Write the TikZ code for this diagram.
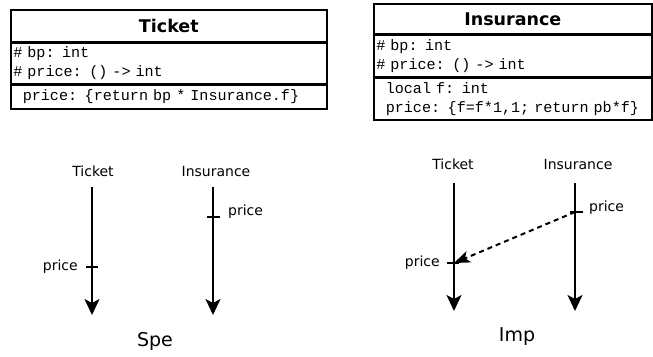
\documentclass[tikz,border=0pt]{standalone}
\usepackage{fontspec}
\setmainfont{DejaVu Sans}
\newfontfamily\codefont{Liberation Mono}
\usetikzlibrary{arrows.meta, positioning, calc}

\tikzset{
  classhead/.style={draw, line width=1.6pt, inner sep=0pt, align=center,
    font=\fontsize{17.5}{20}\selectfont\bfseries},
  attrbox/.style={draw, line width=1.6pt, inner xsep=2.5pt, inner ysep=0pt, align=left,
    font=\codefont\fontsize{15.1}{19}\selectfont},
  lifeline/.style={line width=2pt, -{Stealth[length=16pt, width=15pt, inset=4pt]}},
  message/.style={line width=2pt, dash pattern=on 5pt off 4pt, -{Stealth[length=16pt, width=12pt, inset=4pt]}},
  tick/.style={line width=2pt},
  objname/.style={inner sep=0pt, font=\fontsize{14}{16}\selectfont},
  callname/.style={inner sep=0pt, font=\fontsize{14}{16}\selectfont},
  caption/.style={inner sep=0pt, font=\fontsize{19}{22}\selectfont}
}
\newcommand{\opsindent}{\hspace*{9.5pt}}

\begin{document}
\begin{tikzpicture}[x=1pt, y=-1pt]
            \useasboundingbox (0,0) rectangle (653,356);

            % Ticket class
            \node[classhead, minimum width=316pt, minimum height=32pt, anchor=north west] (tHead) at (10,9) {Ticket};
            \node[attrbox, below=0pt of tHead, text width=311pt, minimum height=40pt] (tAttr) {\# bp: int\\\# price: () -> int};
            \node[attrbox, below=0pt of tAttr, text width=311pt, minimum height=24pt] (tOps) {\opsindent price: \{return bp * Insurance.f\}};

            % Insurance class
            \node[classhead, minimum width=278pt, minimum height=30pt, anchor=north west] (iHead) at (373,3) {Insurance};
            \node[attrbox, below=0pt of iHead, text width=273pt, minimum height=41pt] (iAttr) {\# bp: int\\\# price: () -> int};
            \node[attrbox, below=0pt of iAttr, text width=273pt, minimum height=42pt] (iOps) {\opsindent local f: int\\\opsindent price: \{f=f*1,1; return pb*f\}};

            % Spe: lifelines
            \coordinate (tsTop) at (92,187);
            \coordinate (tsEnd) at (92,315);
            \coordinate (tsCall) at (92,267);
            \coordinate (isTop) at (213,187);
            \coordinate (isEnd) at (213,315);
            \coordinate (isCall) at (213,217);
            \node[objname] (tsHead) at (93,171) {Ticket};
            \node[objname] (isHead) at (216,171) {Insurance};
            \draw[lifeline] (tsTop) -- (tsEnd);
            \draw[lifeline] (isTop) -- (isEnd);
            \draw[tick] ([xshift=-6pt]tsCall) -- ([xshift=6pt]tsCall);
            \draw[tick] ([xshift=-6pt]isCall) -- ([xshift=7pt]isCall);
            \node[callname, left=14pt of tsCall] (tsPrice) {price};
            \node[callname, right=15pt of isCall, yshift=5pt] (isPrice) {price};
            \node[caption] (speLabel) at (155,341) {Spe};

            % Imp: lifelines and call
            \coordinate (tiTop) at (454,183);
            \coordinate (tiEnd) at (454,311);
            \coordinate (tiCall) at (454,263);
            \coordinate (iiTop) at (575,183);
            \coordinate (iiEnd) at (575,311);
            \coordinate (iiCall) at (575,212);
            \node[objname] (tiHead) at (453,164) {Ticket};
            \node[objname] (iiHead) at (578,164) {Insurance};
            \draw[lifeline] (tiTop) -- (tiEnd);
            \draw[lifeline] (iiTop) -- (iiEnd);
            \draw[tick] ([xshift=-7pt]tiCall) -- ([xshift=5pt]tiCall);
            \draw[tick] ([xshift=-5pt]iiCall) -- ([xshift=8pt]iiCall);
            \draw[message] (iiCall) -- (tiCall);
            \node[callname, left=14pt of tiCall] (tiPrice) {price};
            \node[callname, right=14pt of iiCall, yshift=4pt] (iiPrice) {price};
            \node[caption] (impLabel) at (517,337) {Imp};
        \end{tikzpicture}
\end{document}
